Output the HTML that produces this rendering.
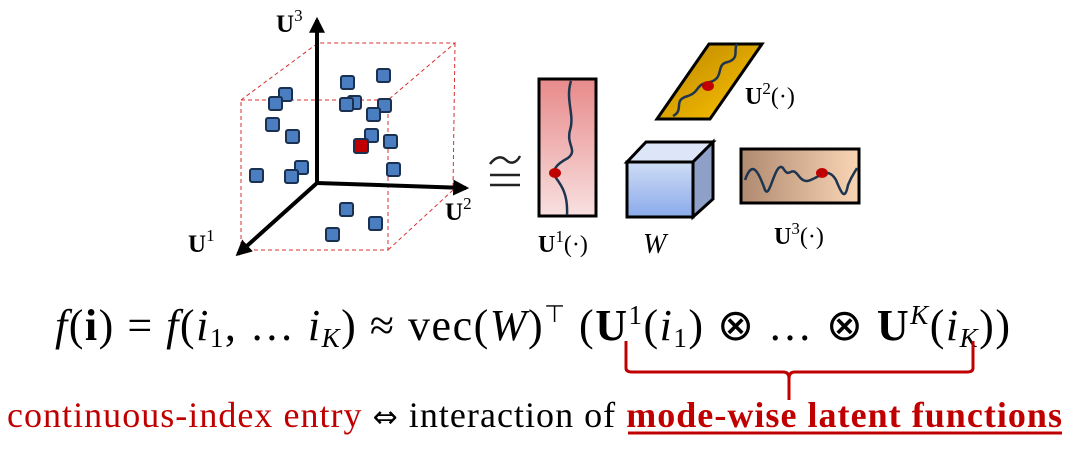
<!DOCTYPE html>
<html><head><meta charset="utf-8"><style>
html,body{margin:0;padding:0;background:#fff;}
svg{display:block;}
text{font-family:"Liberation Serif",serif;}
</style></head><body>
<svg width="1076" height="453" viewBox="0 0 1076 453" xmlns="http://www.w3.org/2000/svg">
<defs>
<linearGradient id="gp" x1="0" y1="0" x2="0" y2="1"><stop offset="0" stop-color="#e88a8a"/><stop offset="1" stop-color="#f8e0e0"/></linearGradient>
<linearGradient id="gg" x1="0" y1="0" x2="1" y2="1"><stop offset="0" stop-color="#b88500"/><stop offset="1" stop-color="#ffc400"/></linearGradient>
<linearGradient id="gt" x1="0" y1="0" x2="1" y2="0"><stop offset="0" stop-color="#b08a70"/><stop offset="1" stop-color="#fad5b5"/></linearGradient>
<linearGradient id="gb" x1="0" y1="0" x2="0" y2="1"><stop offset="0" stop-color="#cfdcf5"/><stop offset="1" stop-color="#8aaaea"/></linearGradient>
<marker id="ar" viewBox="0 0 10 10" refX="8" refY="5" markerWidth="4" markerHeight="4" orient="auto"><path d="M0,0 L10,5 L0,10 z" fill="#000"/></marker>
</defs>
<g stroke="#d83030" stroke-width="1" stroke-dasharray="4,3" fill="none">
<rect x="241" y="100" width="147" height="150"/>
<polyline points="241,100 318,43 455,43 388,100"/>
<polyline points="455,43 453,190 388,250"/>
<line x1="241" y1="250" x2="317" y2="183"/>
</g>
<g stroke="#000" stroke-width="4" marker-end="url(#ar)">
<line x1="317" y1="183" x2="317" y2="20"/>
<line x1="317" y1="183" x2="466" y2="188"/>
<line x1="317" y1="183" x2="238" y2="254"/>
</g>
<g style="font-family:'Liberation Serif',serif" font-size="25" font-weight="bold">
<text x="276" y="32">U<tspan font-size="17" font-weight="normal" dy="-11">3</tspan></text>
<text x="445" y="220">U<tspan font-size="17" font-weight="normal" dy="-11">2</tspan></text>
<text x="188" y="252">U<tspan font-size="17" font-weight="normal" dy="-11">1</tspan></text>
</g>
<g fill="#4a7ec0" stroke="#1a3050" stroke-width="2">
<rect x="341" y="76" width="13" height="13" rx="2"/>
<rect x="377" y="69" width="13" height="13" rx="2"/>
<rect x="279" y="88" width="13" height="13" rx="2"/>
<rect x="269" y="97" width="13" height="13" rx="2"/>
<rect x="348" y="96" width="13" height="13" rx="2"/>
<rect x="340" y="98" width="13" height="13" rx="2"/>
<rect x="378" y="99" width="13" height="13" rx="2"/>
<rect x="367" y="108" width="13" height="13" rx="2"/>
<rect x="266" y="118" width="13" height="13" rx="2"/>
<rect x="286" y="130" width="13" height="13" rx="2"/>
<rect x="365" y="129" width="13" height="13" rx="2"/>
<rect x="384" y="135" width="13" height="13" rx="2"/>
<rect x="387" y="163" width="13" height="13" rx="2"/>
<rect x="250" y="169" width="13" height="13" rx="2"/>
<rect x="295" y="161" width="13" height="13" rx="2"/>
<rect x="285" y="170" width="13" height="13" rx="2"/>
<rect x="340" y="203" width="13" height="13" rx="2"/>
<rect x="369" y="217" width="13" height="13" rx="2"/>
<rect x="326" y="228" width="13" height="13" rx="2"/>
<rect x="354" y="139" width="14" height="14" rx="2" fill="#c00000"/>
</g>
<g stroke="#222" stroke-width="2.5" fill="none">
<path d="M490,164 C496,156 502,156 506,160 C510,164 516,164 520,156"/>
<line x1="490" y1="175" x2="520" y2="175"/>
<line x1="490" y1="185" x2="520" y2="185"/>
</g>
<rect x="539" y="79" width="57" height="137" fill="url(#gp)" stroke="#000" stroke-width="3"/>
<path d="M571,81 C565,100 575,115 570,130 C566,145 578,150 568,158 C555,165 552,170 556,178 C562,186 568,195 567,215" fill="none" stroke="#1e3550" stroke-width="2.5"/>
<ellipse cx="555" cy="173" rx="6" ry="5" fill="#c00000"/>
<polygon points="709,44 762,44 710,119 657,119" fill="url(#gg)" stroke="#000" stroke-width="3"/>
<path d="M673,116 C685,110 672,100 688,96 C700,92 695,84 710,82 C725,78 715,64 728,62 C740,58 733,50 737,44" fill="none" stroke="#1e3550" stroke-width="2.5"/>
<ellipse cx="708" cy="86" rx="6" ry="5" fill="#c00000"/>
<polygon points="627,162 646,142 713,142 693,162" fill="#dde6f8" stroke="#000" stroke-width="3"/>
<polygon points="693,162 713,142 713,199 693,217" fill="#8fa0c8" stroke="#000" stroke-width="3"/>
<rect x="627" y="162" width="66" height="55" fill="url(#gb)" stroke="#000" stroke-width="3"/>
<rect x="741" y="149" width="118" height="54" fill="url(#gt)" stroke="#000" stroke-width="3"/>
<path d="M745,180 C752,160 758,170 765,190 C770,200 775,160 783,168 C790,180 790,165 798,175 C805,185 810,180 815,178 C825,172 830,170 836,180 C842,195 845,200 848,185 C852,175 855,172 857,168" fill="none" stroke="#1e3550" stroke-width="2.5"/>
<ellipse cx="822" cy="173" rx="6" ry="5" fill="#c00000"/>
<g style="font-family:'Liberation Serif',serif" font-size="24">
<text x="538" y="252"><tspan font-weight="bold">U</tspan><tspan font-size="17" dy="-10">1</tspan><tspan dy="10">(·)</tspan></text>
<text x="745" y="104"><tspan font-weight="bold">U</tspan><tspan font-size="17" dy="-10">2</tspan><tspan dy="10">(·)</tspan></text>
<text x="774" y="244"><tspan font-weight="bold">U</tspan><tspan font-size="17" dy="-10">3</tspan><tspan dy="10">(·)</tspan></text>
<text x="643" y="253" font-style="italic" font-size="28">W</text>
</g>
<text x="55" y="340" style="font-family:'Liberation Serif',serif" font-size="44" textLength="955" lengthAdjust="spacing"><tspan font-style="italic">f</tspan>(<tspan font-weight="bold">i</tspan>) = <tspan font-style="italic">f</tspan>(<tspan font-style="italic">i</tspan><tspan font-size="27" dy="7">1</tspan><tspan dy="-7">, … </tspan><tspan font-style="italic">i</tspan><tspan font-size="27" font-style="italic" dy="7">K</tspan><tspan dy="-7">) ≈ vec(</tspan><tspan font-style="italic">W</tspan>)<tspan font-size="24" dy="-18">⊤</tspan><tspan dy="18"> (</tspan><tspan font-weight="bold">U</tspan><tspan font-size="27" dy="-16">1</tspan><tspan dy="16">(</tspan><tspan font-style="italic">i</tspan><tspan font-size="27" dy="7">1</tspan><tspan dy="-7">) ⊗ … ⊗ </tspan><tspan font-weight="bold">U</tspan><tspan font-size="27" font-style="italic" dy="-16">K</tspan><tspan dy="16">(</tspan><tspan font-style="italic">i</tspan><tspan font-size="27" font-style="italic" dy="7">K</tspan><tspan dy="-7">))</tspan></text>
<path d="M626,341 L626,368 Q626,372 632,372 L783,372 Q789,372 789,378 L789,400 M789,378 Q789,372 795,372 L967,372 Q973,372 973,368 L973,341" fill="none" stroke="#c00000" stroke-width="3"/>
<text x="7" y="427" style="font-family:'Liberation Serif',serif" font-size="36" textLength="1055" lengthAdjust="spacing"><tspan fill="#c00000">continuous-index entry</tspan> <tspan style="font-family:'DejaVu Sans',sans-serif" font-size="30">⇔</tspan> interaction of <tspan fill="#c00000" font-weight="bold">mode-wise latent functions</tspan></text>
<line x1="628" y1="433" x2="1062" y2="433" stroke="#c00000" stroke-width="3"/>
</svg>
</body></html>
